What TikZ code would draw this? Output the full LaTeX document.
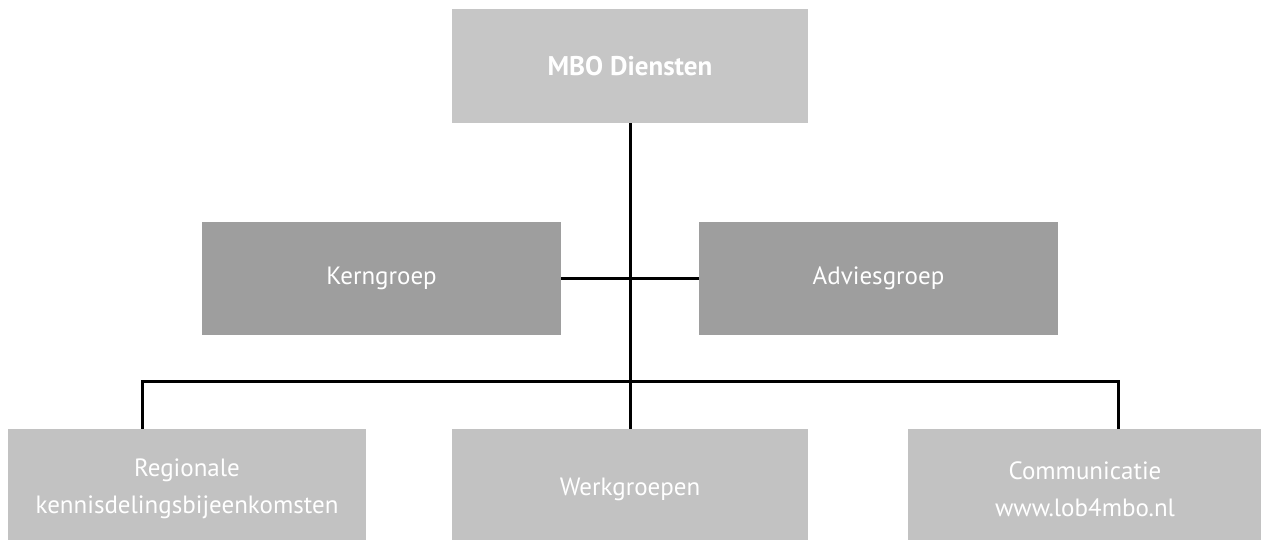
\documentclass[tikz,border=0pt]{standalone}
\usepackage{fontspec}
\setmainfont{PT Sans}
\definecolor{topgray}{HTML}{C6C6C6}
\definecolor{midgray}{HTML}{9E9E9E}
\definecolor{lowgray}{HTML}{C2C2C2}
\begin{document}
\begin{tikzpicture}[x=1pt,y=-1pt,
  box/.style={rectangle, inner sep=0pt, text=white, align=center,
    font=\fontsize{25}{37}\selectfont},
  conn/.style={line width=3pt, black}]
\useasboundingbox (0,0) rectangle (1261,539);
\fill[white] (0,0) rectangle (1261,539);
\node[box, fill=topgray, minimum width=356pt, minimum height=114pt,
  font=\bfseries\fontsize{27}{31}\selectfont] (top) at (630,66) {MBO Diensten};
\node[box, fill=midgray, minimum width=359pt, minimum height=113pt] (kern) at (381.5,278) {Kerngroep};
\node[box, fill=midgray, minimum width=359pt, minimum height=113pt] (advies) at (878.5,278) {Adviesgroep};
\node[box, fill=lowgray, minimum width=358pt, minimum height=120pt] (reg) at (187,489) {Regionale\\kennisdelingsbijeenkomsten};
\node[box, fill=lowgray, minimum width=356pt, minimum height=120pt] (werk) at (630,489) {Werkgroepen};
\node[box, fill=lowgray, minimum width=354pt, minimum height=120pt] (comm) at (1085,489) {Communicatie\\www.lob4mbo.nl};
\coordinate (busL) at (142,381);
\coordinate (busR) at (1118,381);
\draw[conn] (top.south) -- (werk.north);
\draw[conn] (kern.east) -- (advies.west);
\draw[conn, line cap=rect] (busL) -- (busR);
\draw[conn] (busL) -- (busL |- reg.north);
\draw[conn] (busR) -- (busR |- comm.north);
\end{tikzpicture}
\end{document}
